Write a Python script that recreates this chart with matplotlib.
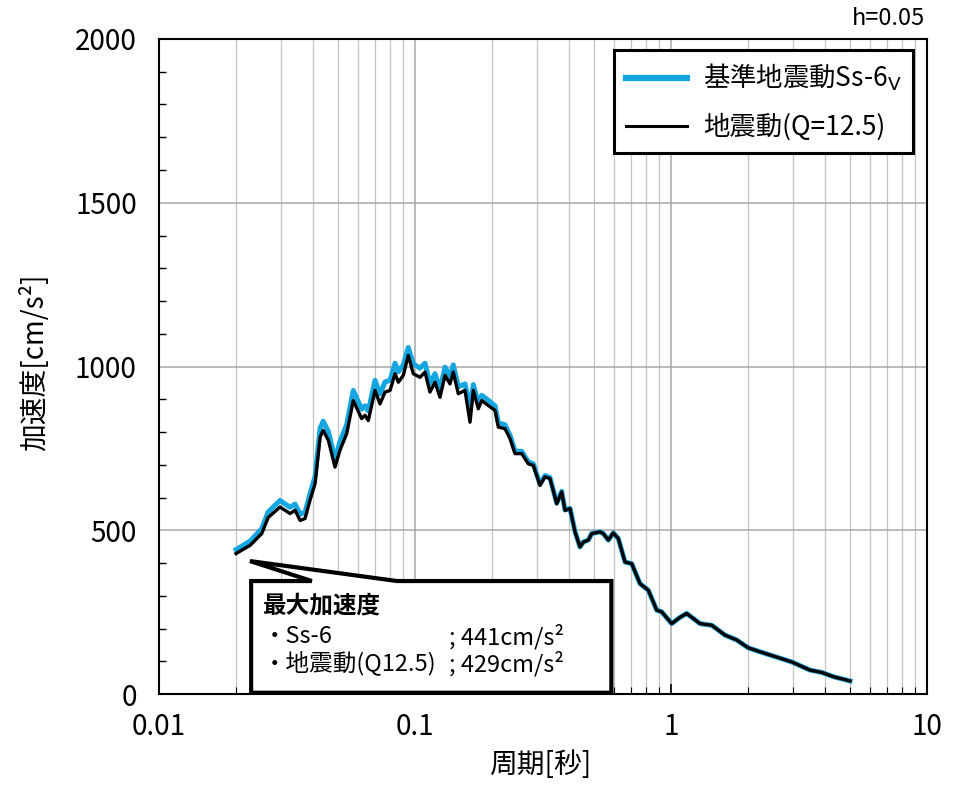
import numpy as np
import matplotlib
matplotlib.use("Agg")
import matplotlib.pyplot as plt
from matplotlib.patches import Polygon
from matplotlib.ticker import FixedLocator, FixedFormatter, MultipleLocator, NullFormatter

plt.rcParams['font.family'] = ['Noto Sans CJK JP', 'DejaVu Sans']
plt.rcParams['mathtext.fontset'] = 'dejavusans'

# period [s]
period = [0.020, 0.0227, 0.0252, 0.0267, 0.0297, 0.0325, 0.0340, 0.0356, 0.0372, 0.0389,
          0.0407, 0.0426, 0.0438, 0.0459, 0.0487, 0.0509, 0.0541, 0.0574, 0.0619, 0.0638,
          0.0657, 0.0698, 0.0730, 0.0764, 0.0799, 0.0836, 0.0861, 0.0900, 0.0941, 0.0985,
          0.1046, 0.1094, 0.1144, 0.1197, 0.1252, 0.1310, 0.1370, 0.1411, 0.1476, 0.1568,
          0.1640, 0.1690, 0.1767, 0.1822, 0.1933, 0.2054, 0.2116, 0.2247, 0.2350, 0.2459,
          0.2611, 0.2771, 0.2898, 0.3078, 0.3219, 0.3367, 0.3577, 0.3741, 0.3855, 0.4032,
          0.4217, 0.4410, 0.4544, 0.4753, 0.4900, 0.5281, 0.5439, 0.5690, 0.5950, 0.6224,
          0.6612, 0.7024, 0.7567, 0.8152, 0.8794, 0.9198, 1.006, 1.084, 1.151, 1.298,
          1.442, 1.625, 1.806, 2.004, 2.227, 2.509, 2.961, 3.491, 3.879, 4.305,
          5.0]

# 基準地震動Ss-6V  [cm/s2]
acc_ss6 = [441, 467, 505, 556, 591, 570, 580, 549, 555, 612,
           664, 812, 833, 801, 717, 770, 823, 927, 870, 880,
           864, 958, 916, 953, 958, 1010, 984, 1005, 1058, 1008,
           995, 1010, 948, 978, 930, 998, 970, 1005, 938, 947,
           875, 945, 888, 912, 897, 880, 828, 822, 790, 742,
           741, 709, 703, 641, 667, 661, 583, 619, 562, 567,
           496, 449, 464, 470, 490, 495, 490, 470, 492, 475,
           403, 398, 337, 317, 256, 251, 215, 234, 246, 215,
           210, 180, 165, 141, 129, 116, 98, 73, 66, 53,
           40]

# 地震動(Q=12.5)  [cm/s2]
acc_q125 = [429, 454, 490, 539, 571, 551, 561, 530, 536, 592,
            642, 785, 805, 774, 693, 744, 795, 896, 841, 851,
            835, 927, 886, 922, 927, 978, 952, 973, 1034, 978,
            967, 983, 922, 952, 906, 973, 947, 983, 917, 927,
            830, 927, 871, 896, 881, 866, 815, 810, 780, 734,
            734, 703, 698, 637, 663, 658, 581, 617, 561, 566,
            495, 449, 464, 470, 490, 495, 490, 470, 492, 475,
            403, 398, 337, 317, 256, 251, 215, 234, 246, 215,
            210, 180, 165, 141, 129, 116, 98, 73, 66, 53,
            40]

x_ticks = [0.01, 0.1, 1, 10]
x_ticklabels = ['0.01', '0.1', '1', '10']
y_ticks = [0, 500, 1000, 1500, 2000]

fig = plt.figure(figsize=(9.56, 7.86), dpi=100)
ax = fig.add_axes([0.1663, 0.1170, 0.8034, 0.8334])

ax.plot(period, acc_ss6, color='#14a6e0', lw=3.6, label='基準地震動Ss-6$_\\mathrm{V}$',
        zorder=3, solid_joinstyle='round')
ax.plot(period, acc_q125, color='black', lw=2.4, label='地震動(Q=12.5)', zorder=4,
        solid_joinstyle='round')

ax.set_xscale('log')
ax.set_xlim(0.01, 10)
ax.set_ylim(0, 2000)
ax.xaxis.set_major_locator(FixedLocator(x_ticks))
ax.xaxis.set_major_formatter(FixedFormatter(x_ticklabels))
ax.xaxis.set_minor_locator(FixedLocator([m * d for d in [0.01, 0.1, 1] for m in range(2, 10)]))
ax.xaxis.set_minor_formatter(NullFormatter())
ax.yaxis.set_major_locator(FixedLocator(y_ticks))
ax.yaxis.set_minor_locator(MultipleLocator(100))

ax.tick_params(axis='both', which='both', direction='in', labelsize=20)
ax.tick_params(axis='x', which='major', length=7, width=1.2, pad=13)
ax.tick_params(axis='x', which='minor', length=5, width=0.8)
ax.tick_params(axis='y', which='major', length=0, pad=16)
ax.tick_params(axis='y', which='minor', length=5, width=1.0)

ax.grid(True, which='major', color='#a8a8a8', lw=1.1)
ax.grid(True, which='minor', axis='x', color='#c4c4c4', lw=0.9)
for s in ax.spines.values():
    s.set_linewidth(1.5)

leg = ax.legend(loc='upper right', bbox_to_anchor=(0.982, 0.983), borderaxespad=0,
                fontsize=19, frameon=True, fancybox=False, handlelength=2.3,
                handletextpad=0.6, labelspacing=0.75, borderpad=0.45)
leg.get_frame().set_edgecolor('black')
leg.get_frame().set_linewidth(2.2)
leg.get_frame().set_alpha(1)
for ln in leg.get_lines():
    if ln.get_color() == 'black':
        ln.set_linewidth(2.2)
    else:
        ln.set_linewidth(4.5)

# callout box
x0, x1, y0, y1 = 0.120, 0.589, 0.002, 0.1725
callout = Polygon([(x0, y0), (x0, y1), (0.199, y1), (0.1185, 0.203), (0.310, y1),
                   (x1, y1), (x1, y0)], closed=True, transform=ax.transAxes,
                  facecolor='white', edgecolor='black', lw=3, zorder=5, clip_on=False)
ax.add_patch(callout)
ax.text(0.135, 0.135, '最大加速度', transform=ax.transAxes, fontsize=17,
        fontweight='bold', va='center', ha='left', zorder=6)
ax.text(0.135, 0.088, '・Ss-6', transform=ax.transAxes, fontsize=17,
        va='center', ha='left', zorder=6)
ax.text(0.378, 0.088, '; 441cm/s²', transform=ax.transAxes, fontsize=17,
        va='center', ha='left', zorder=6)
ax.text(0.135, 0.047, '・地震動(Q12.5)', transform=ax.transAxes, fontsize=17,
        va='center', ha='left', zorder=6)
ax.text(0.378, 0.047, '; 429cm/s²', transform=ax.transAxes, fontsize=17,
        va='center', ha='left', zorder=6)

fig.text(0.9676, 0.977, 'h=0.05', fontsize=17, ha='right', va='center')
fig.text(540 / 956, 1 - 765 / 786, '周期[秒]', fontsize=20, ha='center', va='center')
fig.text(35 / 956, 1 - 362 / 786, '加速度[cm/s²]', fontsize=20, ha='center',
         va='center', rotation=90)

fig.savefig('out.png', dpi=100)
